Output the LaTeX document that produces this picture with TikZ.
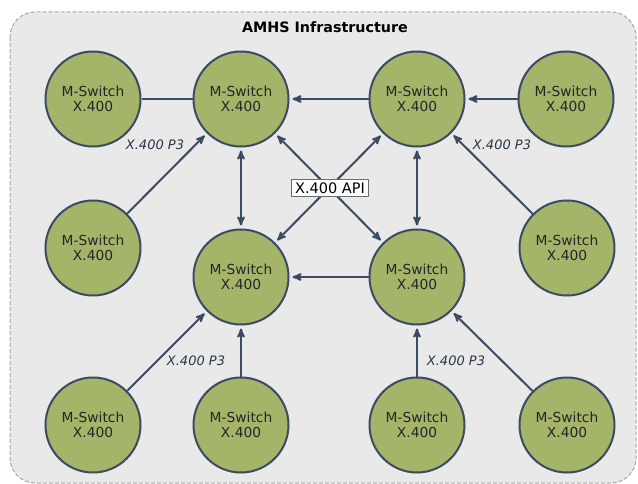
\documentclass[tikz,border=0pt]{standalone}
\usepackage{fontspec}
\setmainfont{DejaVu Sans}
\usepackage{tikz}
\usetikzlibrary{shapes}
\usetikzlibrary{arrows}
\usetikzlibrary{backgrounds}
\definecolor{switchgreen}{HTML}{A4B468}
\definecolor{edgeblue}{HTML}{3A4B63}
\tikzstyle{panel}=[rounded corners=25, draw=gray!70, fill=gray!17, dash pattern=on 4 off 2, line width=1]
\tikzstyle{switchnode}=[circle, draw=edgeblue, fill=switchgreen, line width=2, minimum size=95, inner sep=0, align=center, text=black!85, font=\fontsize{13.8}{15.5}\selectfont]
\tikzstyle{link}=[line width=2, draw=edgeblue]
\tikzstyle{arrow}=[link, ->, >=stealth', shorten >=3]
\tikzstyle{twoway}=[link, <->, >=stealth', shorten >=3, shorten <=3]
\tikzstyle{proto}=[text=edgeblue!70!black, font=\fontsize{13}{15}\selectfont\itshape]
\tikzstyle{api}=[rectangle, draw=gray!60!edgeblue, fill=white, line width=1, inner xsep=3.5, inner ysep=3.5, font=\fontsize{14.5}{16}\selectfont]
\tikzset{every picture/.style={
    line width=1
  }
}

\begin{document}
\begin{tikzpicture}[x=1pt, y=-1pt]
        \useasboundingbox (0,0) rectangle (638,484);
        \draw[panel] (10,12) rectangle (636,483);
        \node[font=\bfseries\fontsize{14.3}{16}\selectfont] at (325,27) (title) {AMHS Infrastructure};
        % top row
        \node[switchnode] at (93,99) (nwleaf) {M-Switch\\X.400};
        \node[switchnode] at (241,99) (nwhub) {M-Switch\\X.400};
        \node[switchnode] at (417,99) (nehub) {M-Switch\\X.400};
        \node[switchnode] at (566,99) (neleaf) {M-Switch\\X.400};
        % middle row
        \node[switchnode] at (93,248) (wleaf) {M-Switch\\X.400};
        \node[switchnode] at (241,277) (swhub) {M-Switch\\X.400};
        \node[switchnode] at (417,277) (sehub) {M-Switch\\X.400};
        \node[switchnode] at (567,248) (eleaf) {M-Switch\\X.400};
        % bottom row
        \node[switchnode] at (93,425) (swleaf) {M-Switch\\X.400};
        \node[switchnode] at (241,425) (sleafw) {M-Switch\\X.400};
        \node[switchnode] at (417,425) (sleafe) {M-Switch\\X.400};
        \node[switchnode] at (567,425) (seleaf) {M-Switch\\X.400};
        % connections
        \draw[link] (nwleaf) -- (nwhub);
        \draw[arrow] (nehub) -- (nwhub);
        \draw[arrow] (neleaf) -- (nehub);
        \draw[arrow] (wleaf) -- (nwhub);
        \draw[arrow] (eleaf) -- (nehub);
        \draw[twoway] (nwhub) -- (swhub);
        \draw[twoway] (nehub) -- (sehub);
        \draw[twoway] (nwhub) -- (sehub);
        \draw[twoway] (nehub) -- (swhub);
        \draw[arrow] (sehub) -- (swhub);
        \draw[arrow] (swleaf) -- (swhub);
        \draw[arrow] (sleafw) -- (swhub);
        \draw[arrow] (sleafe) -- (sehub);
        \draw[arrow] (seleaf) -- (sehub);
        \node[api] at (330,188) (api) {X.400 API};
        \node[proto] at (155,145) (p3nw) {X.400 P3};
        \node[proto] at (502,145) (p3ne) {X.400 P3};
        \node[proto] at (196,361) (p3sw) {X.400 P3};
        \node[proto] at (456,361) (p3se) {X.400 P3};
\end{tikzpicture}
\end{document}
